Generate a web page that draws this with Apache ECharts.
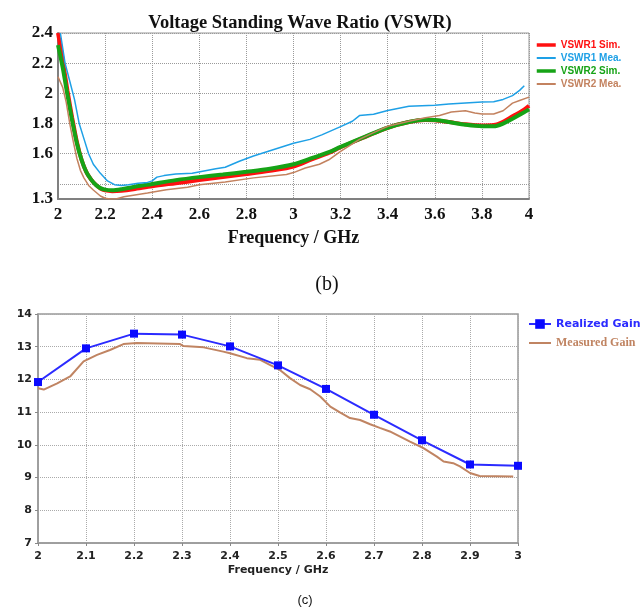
<!DOCTYPE html>
<html><head><meta charset="utf-8">
<script src="https://cdn.jsdelivr.net/npm/echarts@6/dist/echarts.min.js"></script>
<style>html,body{margin:0;padding:0;background:#fff}#c{width:644px;height:609px}</style>
</head><body><div id="c"></div>
<script>
// ---- Top chart (VSWR) ----
const vswrYLabels = [1.3, 1.6, 1.8, 2, 2.2, 2.4];
const vswrYGrid = [1.4, 1.6, 1.8, 2.0, 2.2, 2.4];
const vswr1Sim = [[2.0,2.40],[2.02,2.22],[2.04,2.02],[2.06,1.84],[2.08,1.68],[2.10,1.56],[2.12,1.48],[2.14,1.43],[2.16,1.395],[2.18,1.37],[2.20,1.357],[2.23,1.352],[2.27,1.355],[2.32,1.365],[2.40,1.385],[2.50,1.405],[2.60,1.425],[2.70,1.445],[2.80,1.465],[2.90,1.487],[3.0,1.515],[3.08,1.565],[3.15,1.605],[3.2,1.643],[3.31,1.715],[3.4,1.772],[3.49,1.81],[3.56,1.823],[3.6,1.822],[3.66,1.81],[3.73,1.795],[3.8,1.787],[3.85,1.79],[3.89,1.812],[3.93,1.848],[3.97,1.883],[4.0,1.918]];
const vswr1Mea = [[2.01,2.40],[2.03,2.2],[2.05,2.08],[2.07,1.96],[2.09,1.80],[2.11,1.70],[2.13,1.60],[2.15,1.53],[2.18,1.47],[2.21,1.42],[2.24,1.395],[2.27,1.39],[2.30,1.395],[2.34,1.405],[2.38,1.41],[2.40,1.42],[2.42,1.445],[2.45,1.455],[2.5,1.465],[2.57,1.47],[2.62,1.485],[2.67,1.50],[2.71,1.51],[2.77,1.55],[2.83,1.585],[2.89,1.615],[2.95,1.645],[3.0,1.67],[3.07,1.695],[3.12,1.725],[3.2,1.78],[3.25,1.815],[3.28,1.853],[3.34,1.862],[3.4,1.887],[3.49,1.915],[3.6,1.922],[3.66,1.93],[3.8,1.942],[3.85,1.945],[3.89,1.96],[3.93,1.985],[3.96,2.02],[3.98,2.05]];
const vswr2Sim = [[2.0,2.32],[2.02,2.17],[2.04,1.99],[2.06,1.82],[2.08,1.67],[2.10,1.56],[2.12,1.48],[2.14,1.43],[2.16,1.395],[2.18,1.372],[2.20,1.362],[2.23,1.358],[2.27,1.365],[2.32,1.38],[2.40,1.40],[2.50,1.425],[2.60,1.445],[2.70,1.462],[2.80,1.48],[2.90,1.50],[3.0,1.53],[3.08,1.572],[3.15,1.61],[3.2,1.645],[3.31,1.717],[3.4,1.772],[3.49,1.81],[3.56,1.825],[3.6,1.823],[3.66,1.81],[3.73,1.792],[3.8,1.782],[3.85,1.782],[3.89,1.80],[3.93,1.832],[3.97,1.866],[4.0,1.894]];
const vswr2Mea = [[2.0,2.11],[2.02,2.04],[2.035,1.94],[2.05,1.80],[2.065,1.68],[2.08,1.57],[2.095,1.49],[2.11,1.44],[2.13,1.39],[2.15,1.36],[2.18,1.32],[2.20,1.305],[2.22,1.30],[2.25,1.302],[2.28,1.315],[2.32,1.325],[2.38,1.34],[2.46,1.362],[2.55,1.378],[2.6,1.395],[2.71,1.412],[2.83,1.44],[2.97,1.463],[3.0,1.475],[3.05,1.505],[3.11,1.53],[3.15,1.56],[3.2,1.615],[3.28,1.695],[3.34,1.74],[3.4,1.782],[3.49,1.815],[3.56,1.838],[3.62,1.853],[3.67,1.876],[3.73,1.885],[3.77,1.87],[3.8,1.863],[3.85,1.863],[3.89,1.885],[3.93,1.935],[3.96,1.953],[4.0,1.975]];

// ---- Bottom chart (Gain) ----
const gainFreq = [2.0,2.1,2.2,2.3,2.4,2.5,2.6,2.7,2.8,2.9,3.0];
const realizedGain = [11.92,12.95,13.4,13.37,13.01,12.43,11.71,10.92,10.14,9.4,9.36];
const measuredGain = [[2.0,11.73],[2.012,11.69],[2.04,11.88],[2.067,12.09],[2.095,12.55],[2.123,12.75],[2.15,12.9],[2.178,13.08],[2.206,13.11],[2.296,13.08],[2.303,13.02],[2.345,12.98],[2.386,12.85],[2.40,12.8],[2.435,12.65],[2.463,12.6],[2.484,12.44],[2.504,12.29],[2.525,12.04],[2.546,11.83],[2.567,11.70],[2.588,11.48],[2.609,11.17],[2.629,10.99],[2.65,10.82],[2.671,10.76],[2.692,10.63],[2.712,10.52],[2.733,10.41],[2.775,10.10],[2.803,9.90],[2.831,9.64],[2.845,9.49],[2.865,9.44],[2.879,9.34],[2.9,9.14],[2.92,9.05],[2.99,9.03]];

const C = {red:'#ff1010', blue:'#1ea0e6', green:'#16a316', brown:'#c3825f', gblue:'#2b2bff', gbrown:'#c08462'};
const serif = 'Liberation Serif';
const sans = 'DejaVu Sans';
const hideSym = {opacity:0, borderWidth:0};

const chart = echarts.init(document.getElementById('c'));
chart.setOption({
  animation: false,
  backgroundColor: '#fff',
  title: [
    {text:'Voltage Standing Wave Ratio (VSWR)', left:295, top:9, textAlign:'center',
     textStyle:{fontFamily:serif, fontWeight:'bold', fontSize:18.5, color:'#111'}},
    {text:'(b)', left:322, top:270, textAlign:'center',
     textStyle:{fontFamily:serif, fontWeight:'normal', fontSize:20, color:'#111'}},
    {text:'(c)', left:300, top:589, textAlign:'center',
     textStyle:{fontFamily:'Liberation Sans', fontWeight:'normal', fontSize:13, color:'#111'}}
  ],
  legend: [
    {orient:'vertical', left:535, top:40, padding:0, itemWidth:19, itemHeight:10, itemGap:3,
     textStyle:{fontFamily:'Liberation Sans', fontWeight:'bold', fontSize:10, lineHeight:10},
     data:[
       {name:'VSWR1 Sim.', textStyle:{color:C.red}, itemStyle:hideSym, lineStyle:{width:3.5}},
       {name:'VSWR1 Mea.', textStyle:{color:C.blue}, itemStyle:hideSym, lineStyle:{width:2}},
       {name:'VSWR2 Sim.', textStyle:{color:C.green}, itemStyle:hideSym, lineStyle:{width:3.5}},
       {name:'VSWR2 Mea.', textStyle:{color:C.brown}, itemStyle:hideSym, lineStyle:{width:2}}
     ]},
    {orient:'vertical', left:528, top:318, padding:0, itemWidth:22, itemHeight:12, itemGap:7,
     textStyle:{fontWeight:'bold', fontSize:11, lineHeight:12},
     data:[
       {name:'Realized Gain', textStyle:{color:C.gblue, fontFamily:sans}, lineStyle:{width:2}},
       {name:'Measured Gain', textStyle:{color:C.gbrown, fontFamily:serif, fontSize:12}, itemStyle:hideSym, lineStyle:{width:2}}
     ]}
  ],
  grid: [
    {left:58, top:33, width:471, height:166, show:true, borderColor:'#999', borderWidth:1},
    {left:38, top:314, width:480, height:229, show:true, borderColor:'#999', borderWidth:1.5}
  ],
  xAxis: [
    {gridIndex:0, type:'value', min:2, max:4, interval:0.2,
     name:'Frequency / GHz', nameLocation:'middle', nameGap:30,
     nameTextStyle:{fontFamily:serif, fontWeight:'bold', fontSize:18, color:'#111'},
     axisLabel:{fontFamily:serif, fontWeight:'bold', fontSize:17, color:'#111', margin:7},
     axisTick:{show:false},
     axisLine:{show:true, onZero:false, lineStyle:{color:'#808080', width:2}},
     splitLine:{show:true, lineStyle:{type:'dotted', color:'#9a9a9a', width:1}}},
    {gridIndex:1, type:'value', min:2, max:3, interval:0.1,
     name:'Frequency / GHz', nameLocation:'middle', nameGap:22,
     nameTextStyle:{fontFamily:sans, fontWeight:'bold', fontSize:11, color:'#222'},
     axisLabel:{fontFamily:sans, fontWeight:'bold', fontSize:11, color:'#222', margin:8},
     axisTick:{show:true, length:3, lineStyle:{color:'#888'}},
     axisLine:{show:true, onZero:false, lineStyle:{color:'#999', width:1.5}},
     splitLine:{show:true, lineStyle:{type:'dotted', color:'#aaa', width:1}}}
  ],
  yAxis: [
    {gridIndex:0, type:'value', min:1.3, max:2.4,
     axisLabel:{customValues:vswrYLabels, fontFamily:serif, fontWeight:'bold', fontSize:17, color:'#111', margin:5},
     axisTick:{show:false, customValues:vswrYGrid},
     axisLine:{show:true, onZero:false, lineStyle:{color:'#808080', width:2}},
     splitLine:{show:true, lineStyle:{type:'dotted', color:'#9a9a9a', width:1}}},
    {gridIndex:1, type:'value', min:7, max:14, interval:1,
     axisLabel:{fontFamily:sans, fontWeight:'bold', fontSize:11, color:'#222', margin:6},
     axisTick:{show:true, length:3, lineStyle:{color:'#888'}},
     axisLine:{show:true, onZero:false, lineStyle:{color:'#999', width:1.5}},
     splitLine:{show:true, lineStyle:{type:'dotted', color:'#aaa', width:1}}}
  ],
  series: [
    {name:'VSWR1 Sim.', type:'line', xAxisIndex:0, yAxisIndex:0, data:vswr1Sim, smooth:0.3, symbol:'none',
     lineStyle:{color:C.red, width:4}, itemStyle:{color:C.red}},
    {name:'VSWR2 Sim.', type:'line', xAxisIndex:0, yAxisIndex:0, data:vswr2Sim, smooth:0.3, symbol:'none',
     lineStyle:{color:C.green, width:4}, itemStyle:{color:C.green}},
    {name:'VSWR1 Mea.', type:'line', xAxisIndex:0, yAxisIndex:0, data:vswr1Mea, symbol:'none',
     lineStyle:{color:C.blue, width:1.5}, itemStyle:{color:C.blue}},
    {name:'VSWR2 Mea.', type:'line', xAxisIndex:0, yAxisIndex:0, data:vswr2Mea, symbol:'none',
     lineStyle:{color:C.brown, width:1.5}, itemStyle:{color:C.brown}},
    {name:'Measured Gain', type:'line', xAxisIndex:1, yAxisIndex:1, data:measuredGain, symbol:'none',
     lineStyle:{color:C.gbrown, width:2}, itemStyle:{color:C.gbrown}},
    {name:'Realized Gain', type:'line', xAxisIndex:1, yAxisIndex:1,
     data:gainFreq.map((f,i)=>[f, realizedGain[i]]), symbol:'rect', symbolSize:8,
     lineStyle:{color:C.gblue, width:2}, itemStyle:{color:'#0a0aff'}}
  ]
});
</script></body></html>
